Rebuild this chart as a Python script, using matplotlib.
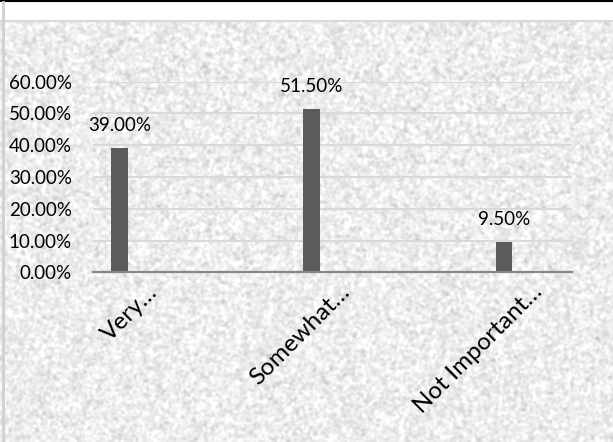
import numpy as np
import matplotlib
matplotlib.use("Agg")
import matplotlib.pyplot as plt
import matplotlib.transforms as mtransforms
from matplotlib.ticker import FuncFormatter, MultipleLocator

categories = ["Very\u2026", "Somewhat\u2026", "Not Important\u2026"]
shares = [0.39, 0.515, 0.095]
value_labels = ["39.00%", "51.50%", "9.50%"]

W, H, DPI = 613, 442, 100
plt.rcParams["font.family"] = ["Lato", "DejaVu Sans"]

fig = plt.figure(figsize=(W / DPI, H / DPI), dpi=DPI)
fig.patch.set_facecolor("white")

# granite-like paper texture behind the chart
rng = np.random.default_rng(7)
tex_h = H - 22
noise = rng.normal(0, 1, (tex_h, W))
k = np.exp(-0.5 * (np.arange(-4, 5) / 1.2) ** 2)
k /= k.sum()
noise = np.apply_along_axis(lambda r: np.convolve(r, k, mode="same"), 1, noise)
noise = np.apply_along_axis(lambda c: np.convolve(c, k, mode="same"), 0, noise)
noise = (noise - noise.mean()) / noise.std()
gray = np.clip(0.93 + 0.038 * noise, 0.78, 1.0)
bg = fig.add_axes([0, 0, 1, tex_h / H], zorder=0)
bg.imshow(gray, cmap="gray", vmin=0, vmax=1, aspect="auto", interpolation="bilinear")
bg.axis("off")

# frame bits: black top rule, grey separator, left border
fig.add_artist(plt.Line2D([0, 1], [1 - 1 / H, 1 - 1 / H], color="black", lw=1.5))
fig.add_artist(plt.Line2D([0, 1], [1 - 21 / H, 1 - 21 / H], color="#d9d9d9", lw=1.5))
fig.add_artist(plt.Line2D([2.5 / W, 2.5 / W], [0, 1 - 2 / H], color="#d0d0d0", lw=2))

left, right, top, bottom = 92.7, 572.0, 81.7, 272.3
ax = fig.add_axes([left / W, 1 - bottom / H, (right - left) / W, (bottom - top) / H], zorder=1)
ax.patch.set_alpha(0)

x = np.arange(len(categories))
ax.bar(x, shares, width=0.088, color="#5b5b5b", zorder=3)

ax.set_xlim(-0.14, 2.354)
ax.set_ylim(0, 0.6)
ax.yaxis.set_major_locator(MultipleLocator(0.1))
ax.yaxis.set_major_formatter(FuncFormatter(lambda v, p: f"{v * 100:.2f}%"))
ax.grid(axis="y", color="#d9d9d9", lw=1.5, zorder=1)
ax.set_axisbelow(True)

for s in ["top", "right", "left"]:
    ax.spines[s].set_visible(False)
ax.spines["bottom"].set_color("#878787")
ax.spines["bottom"].set_linewidth(1.6)
ax.spines["bottom"].set_zorder(4)

ax.tick_params(axis="y", length=0, pad=14.9, labelsize=13.5, labelcolor="black")
ax.tick_params(axis="x", length=0, pad=0, labelsize=17.5, labelcolor="black")

ax.set_xticks(x)
ax.set_xticklabels(categories, rotation=45, ha="right", va="top", rotation_mode="anchor")
shift = mtransforms.ScaledTranslation(27 / DPI, -9 / DPI, fig.dpi_scale_trans)
for lab in ax.get_xticklabels():
    lab.set_transform(lab.get_transform() + shift)

for xi, v, t in zip(x, shares, value_labels):
    ax.annotate(t, (xi, v), xytext=(0, 12.2), textcoords="offset points",
                ha="center", va="baseline", fontsize=13.5, color="black", zorder=5)

fig.savefig("out.png", dpi=DPI)
